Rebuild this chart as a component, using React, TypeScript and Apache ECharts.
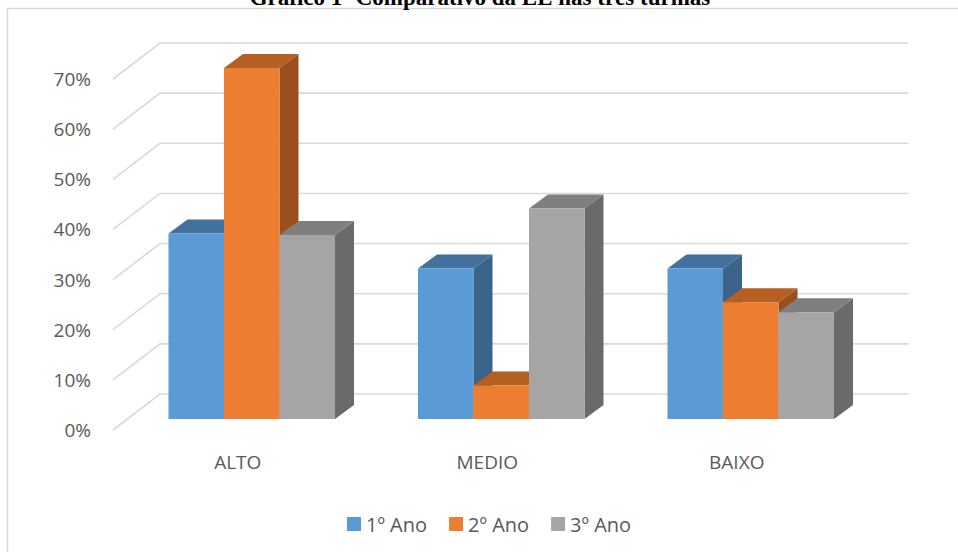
import React, { useEffect, useRef } from "react";
import * as echarts from "echarts";

const categories = ["ALTO", "MEDIO", "BAIXO"];
const seriesNames = ["1º Ano", "2º Ano", "3º Ano"];
const ano1 = [37, 30, 30];
const ano2 = [70, 6.7, 23.3];
const ano3 = [36.7, 42, 21.3];
const yTicks = [0, 10, 20, 30, 40, 50, 60, 70];
const titleText = "Gráfico 1- Comparativo da EE nas três turmas";

const FRONT = ["#5B9BD5", "#ED7D31", "#A5A5A5"];
const TOP = ["#41719C", "#B55F22", "#7F7F7F"];
const SIDE = ["#3A6489", "#9A4F1D", "#6A6A6A"];

// perspective offsets (px)
const WALL_DX = 47;
const WALL_DY = -36;
const BAR_DX = 14;
const BAR_DY = -11;
const DEPTH_DX = 19;
const DEPTH_DY = -14;
const BAR_FRAC = 0.2225;

function makeBarSeries(idx: number, values: number[]) {
  return {
    type: "custom",
    name: seriesNames[idx],
    xAxisIndex: 0,
    yAxisIndex: 0,
    itemStyle: { color: FRONT[idx] },
    z: 3 + idx,
    encode: { x: 0, y: 1 },
    data: values.map((v, i) => [i, v]),
    renderItem: (params: any, api: any) => {
      const cat = api.value(0);
      const val = api.value(1);
      const pt = api.coord([cat, val]);
      const base = api.coord([cat, 0]);
      const band = api.size([1, 0])[0];
      const w = band * BAR_FRAC;
      const x0 = pt[0] + BAR_DX + (idx - 1.5) * w;
      const yt = pt[1] + BAR_DY;
      const yb = base[1] + BAR_DY;
      return {
        type: "group",
        children: [
          {
            type: "polygon",
            shape: {
              points: [
                [x0 + w, yb],
                [x0 + w + DEPTH_DX, yb + DEPTH_DY],
                [x0 + w + DEPTH_DX, yt + DEPTH_DY],
                [x0 + w, yt],
              ],
            },
            style: { fill: SIDE[idx] },
          },
          {
            type: "polygon",
            shape: {
              points: [
                [x0, yt],
                [x0 + w, yt],
                [x0 + w + DEPTH_DX, yt + DEPTH_DY],
                [x0 + DEPTH_DX, yt + DEPTH_DY],
              ],
            },
            style: { fill: TOP[idx] },
          },
          {
            type: "rect",
            shape: { x: x0, y: yt, width: w, height: yb - yt },
            style: { fill: FRONT[idx] },
          },
        ],
      };
    },
  };
}

export default function App() {
  const ref = useRef<HTMLDivElement>(null);
  useEffect(() => {
    if (!ref.current) return;
    const chart = echarts.init(ref.current, null, { renderer: "svg" });
    const textColor = "#595959";
    const font = "'Open Sans', sans-serif";
    chart.setOption({
      animation: false,
      backgroundColor: "#ffffff",
      textStyle: { fontFamily: font },
      graphic: [
        {
          type: "rect",
          shape: { x: 7.5, y: 8.5, width: 1000, height: 600 },
          style: { fill: "none", stroke: "#D9D9D9", lineWidth: 1.5 },
          silent: true,
        },
        {
          type: "text",
          x: 480,
          y: 9,
          style: {
            text: titleText,
            font: "bold 23px 'Liberation Serif', 'Times New Roman', serif",
            fill: "#000000",
            textAlign: "center",
            align: "center",
            textVerticalAlign: "bottom",
            verticalAlign: "bottom",
          },
          silent: true,
        },
      ],
      grid: {
        left: 113,
        top: 79,
        width: 748.5,
        height: 351,
        containLabel: false,
      },
      legend: {
        data: seriesNames,
        left: 342,
        top: 509,
        icon: "rect",
        itemWidth: 14,
        itemHeight: 14,
        itemGap: 22,
        textStyle: { color: textColor, fontSize: 20, fontFamily: font },
      },
      xAxis: {
        type: "category",
        data: categories,
        axisLine: { show: false },
        axisTick: { show: false },
        splitLine: { show: false },
        axisLabel: { color: textColor, fontSize: 19, margin: 22, fontFamily: font },
      },
      yAxis: {
        type: "value",
        min: 0,
        max: 70,
        interval: 10,
        axisLine: { show: false },
        axisTick: { show: false },
        splitLine: { show: false },
        axisLabel: {
          color: textColor,
          fontSize: 19,
          margin: 22,
          fontFamily: font,
          formatter: "{value}%",
        },
      },
      series: [
        {
          type: "custom",
          name: "grid3d",
          silent: true,
          z: 1,
          encode: { x: 0, y: 1 },
          data: yTicks.map((v) => [0, v]),
          renderItem: (params: any, api: any) => {
            const p = api.coord([0, api.value(1)]);
            const band = api.size([1, 0])[0];
            const left = p[0] - band / 2;
            const right = left + band * categories.length;
            return {
              type: "polyline",
              shape: {
                points: [
                  [left, p[1]],
                  [left + WALL_DX, p[1] + WALL_DY],
                  [right + WALL_DX, p[1] + WALL_DY],
                ],
              },
              style: { stroke: "#D9D9D9", lineWidth: 1.6, fill: "none" },
            };
          },
        },
        makeBarSeries(0, ano1),
        makeBarSeries(1, ano2),
        makeBarSeries(2, ano3),
      ],
    });
    return () => chart.dispose();
  }, []);
  return (
    <div
      ref={ref}
      style={{ position: "fixed", left: 0, top: 0, width: 958, height: 552 }}
    />
  );
}
